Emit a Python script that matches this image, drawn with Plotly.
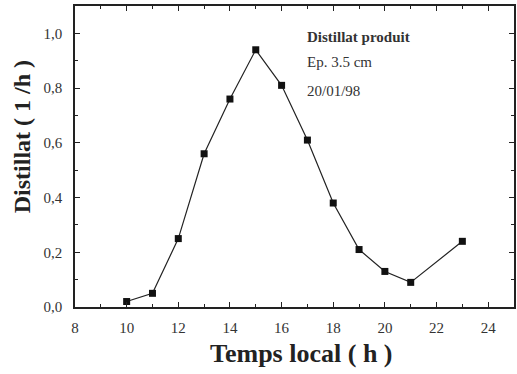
import plotly.graph_objects as go

hours = [10, 11, 12, 13, 14, 15, 16, 17, 18, 19, 20, 21, 23]
distillat = [0.02, 0.05, 0.25, 0.56, 0.76, 0.94, 0.81, 0.61, 0.38, 0.21, 0.13, 0.09, 0.24]

x_ticks = [8, 10, 12, 14, 16, 18, 20, 22, 24]
y_ticks = [0.0, 0.2, 0.4, 0.6, 0.8, 1.0]
y_tick_labels = ["0,0", "0,2", "0,4", "0,6", "0,8", "1,0"]

serif = "Liberation Serif, Times New Roman, serif"

fig = go.Figure()
fig.add_trace(go.Scatter(
    x=hours, y=distillat, mode="lines+markers",
    line=dict(color="#222", width=1.2),
    marker=dict(symbol="square", size=7, color="#111"),
    showlegend=False,
))

axis_common = dict(
    showgrid=False, zeroline=False, showline=True, linecolor="#222", linewidth=1.5,
    mirror="allticks", ticks="inside", ticklen=5, tickwidth=1.2, tickcolor="#222",
    tickfont=dict(family=serif, size=15, color="#333"),
)

fig.update_xaxes(
    range=[8, 25], tickvals=x_ticks, ticktext=[str(v) for v in x_ticks],
    minor=dict(dtick=1, tick0=8, ticks="inside", ticklen=3, tickcolor="#222"),
    ticklabelstandoff=6,
    **axis_common,
)
fig.update_yaxes(
    range=[0, 1.1], tickvals=y_ticks, ticktext=y_tick_labels,
    minor=dict(dtick=0.1, tick0=0, ticks="inside", ticklen=3, tickcolor="#222"),
    ticklabelstandoff=8,
    **axis_common,
)

# axis titles
fig.add_annotation(
    x=0.515, y=-0.156, xref="paper", yref="paper", text="<b>Temps local ( h )</b>",
    showarrow=False, xanchor="center", yanchor="middle",
    font=dict(family=serif, size=26, color="#222"),
)
fig.add_annotation(
    x=-0.12, y=0.565, xref="paper", yref="paper", text="<b>Distillat ( 1 /h )</b>",
    showarrow=False, xanchor="center", yanchor="middle", textangle=-90,
    font=dict(family=serif, size=24, color="#222"),
)

notes = [("<b>Distillat produit</b>", 0.985), ("Ep. 3.5 cm", 0.895), ("20/01/98", 0.79)]
for txt, yy in notes:
    fig.add_annotation(
        x=16.9, y=yy, xref="x", yref="y", text=txt, showarrow=False,
        xanchor="left", yanchor="middle",
        font=dict(family=serif, size=15, color="#333"),
    )

fig.update_layout(
    width=517, height=374,
    margin=dict(l=75, r=1, t=6, b=67),
    paper_bgcolor="white", plot_bgcolor="white",
)

fig.write_html("out.html")
